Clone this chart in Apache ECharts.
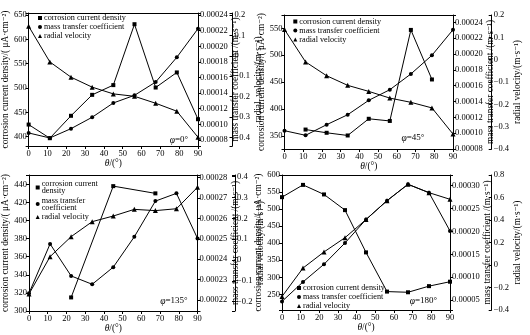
<!DOCTYPE html>
<html><head><meta charset="utf-8">
<script src="https://cdn.jsdelivr.net/npm/echarts@6/dist/echarts.min.js"></script>
<style>html,body{margin:0;padding:0;background:#fff}#c{width:530px;height:335px}</style>
</head><body><div id="c"></div>
<script>
// ---- data ----
const theta = [0, 11.25, 22.5, 33.75, 45, 56.25, 67.5, 78.75, 90];
const xRange = [0, 90];
const xStep = 10;

// phi = 0°
const cd0 = [425, 397, 443, 486, 506, 631, 501, 532, 436];
const mt0 = [0.0000890, 0.0000826, 0.0000945, 0.0001091, 0.0001274, 0.0001372, 0.0001542, 0.0001859, 0.0002225];
const rv0 = [0.145, -0.030, -0.105, -0.154, -0.187, -0.199, -0.233, -0.272, -0.400];
const cdRange0 = [381, 654], cdStep0 = 50;
const mtRange0 = [0.0000723, 0.0002426], mtStep0 = 0.00002;
const rvRange0 = [-0.4427, 0.2098], rvStep0 = 0.1;

// phi = 45°
const cd45 = [null, 362, 356, 351, 382, 378, 547, 455, null];
const mt45 = [0.0001031, 0.0000973, 0.0001107, 0.0001233, 0.0001415, 0.0001549, 0.0001748, 0.0001984, 0.0002307];
const rv45 = [0.135, -0.010, -0.072, -0.115, -0.142, -0.172, -0.191, -0.216, -0.333];
const cdRange45 = [325.9, 574.7], cdStep45 = 50;
const mtRange45 = [0.00008, 0.0002493], mtStep45 = 0.00002;
const rvRange45 = [-0.4, 0.2], rvStep45 = 0.1;

// phi = 135°
const cd135 = [null, null, 315, null, 438, null, 430, null, null];
const mt135 = [0.0002233, 0.0002475, 0.0002318, 0.0002277, 0.0002361, 0.0002510, 0.0002685, 0.0002723, 0.0002502];
const rv135 = [-0.163, 0.016, 0.112, 0.184, 0.211, 0.243, 0.237, 0.246, 0.349];
const cdRange135 = [300, 450.3], cdStep135 = 20;
const mtRange135 = [0.0002146, 0.0002813], mtStep135 = 0.00001;
const rvRange135 = [-0.245, 0.408], rvStep135 = 0.1;

// phi = 180°
const cd180 = [535, 571, 543, 497, 373, 258, 256, 274, 287];
const mt180 = [0.0000468, 0.0000895, 0.0001282, 0.0001747, 0.0002261, 0.0002672, 0.0003031, 0.0002847, 0.0002010];
const rv180 = [-0.280, -0.027, 0.116, 0.243, 0.404, 0.572, 0.717, 0.643, 0.584];
const cdRange180 = [204, 600], cdStep180 = 50;
const mtRange180 = [0.0000281, 0.0003234], mtStep180 = 0.00005;
const rvRange180 = [-0.4, 0.8], rvStep180 = 0.2;

const seriesNames = ['corrosion current density', 'mass transfer coefficient', 'radial velocity'];
const phiLabels = ['0°', '45°', '135°', '180°'];

// ---- layout ----
const FF = 'Liberation Serif, DejaVu Serif, serif';
const panels = [
  {grid:{left:26.5, right:332, top:13, bottom:189}, cd:cd0, mt:mt0, rv:rv0,
   cdR:cdRange0, cdS:cdStep0, mtR:mtRange0, mtS:mtStep0, rvR:rvRange0, rvS:rvStep0,
   outerOff:34.5, leftGap:12.5, innerGap:24, outerGap:14.5, leg:{left:38, top:14}, wrap:false, phiPos:[179,140],
   leftName:'corrosion current density/( μA·cm⁻²)', innerName:'mass transfer coefficient /(m·s⁻¹)', outerName:'radial  velocity/(m·s⁻¹)'},
  {grid:{left:284.5, right:77, top:15, bottom:186}, cd:cd45, mt:mt45, rv:rv45,
   cdR:cdRange45, cdS:cdStep45, mtR:mtRange45, mtS:mtStep45, rvR:rvRange45, rvS:rvStep45,
   outerOff:38.7, leftGap:12.2, innerGap:30, outerGap:20, leg:{left:293.3, top:17.5}, wrap:false, phiPos:[413,138],
   leftName:'corrosion current density/( μA·cm⁻²)', innerName:'mass transfer coefficient /(m·s⁻¹)', outerName:'radial velocity/(m·s⁻¹)'},
  {grid:{left:29, right:332.5, top:175, bottom:24}, cd:cd135, mt:mt135, rv:rv135,
   cdR:cdRange135, cdS:cdStep135, mtR:mtRange135, mtS:mtStep135, rvR:rvRange135, rvS:rvStep135,
   outerOff:37.5, leftGap:14, innerGap:29, outerGap:13, leg:{left:35.7, top:180}, wrap:true, phiPos:[174,301],
   leftName:'corrosion current density/( μA·cm⁻²)', innerName:'mass transfer coefficient /(m·s⁻¹)', outerName:'radial velocity/(m·s⁻¹)'},
  {grid:{left:282, right:80, top:175, bottom:25}, cd:cd180, mt:mt180, rv:rv180,
   cdR:cdRange180, cdS:cdStep180, mtR:mtRange180, mtS:mtStep180, rvR:rvRange180, rvS:rvStep180,
   outerOff:41.7, leftGap:18.7, innerGap:33, outerGap:20, leg:{left:297, top:284}, wrap:false, phiPos:[423.5,301],
   leftName:'corrosion current density/( μA·cm⁻²)', innerName:'mass transfer coefficient /(m·s⁻¹)', outerName:'radial velocity/(m·s⁻¹)'}
];

function isMult(v, s) { return Math.abs(v / s - Math.round(v / s)) < 1e-6; }
const fmtCd = s => v => isMult(v, s) ? String(Math.round(v)) : '';
const fmtMt = s => v => isMult(v, s) ? v.toFixed(5) : '';
const fmtRv = s => v => {
  if (!isMult(v, s)) return '';
  if (Math.abs(v) < 1e-9) return '0';
  return (v < 0 ? '−' : '') + Math.abs(v).toFixed(1);
};
const pairs = arr => theta.map((t, i) => [t, arr[i]]).filter(p => p[1] !== null);

const grids = [], xAxes = [], yAxes = [], series = [], legends = [], graphics = [];
const nameStyle = {fontFamily: FF, fontSize: 9.3, color: '#000'};
const labelStyle = {fontFamily: FF, fontSize: 8.5, color: '#000'};

function yAx(gi, range, step, fmt, pos, off, gap, name, inside) {
  return {
    type: 'value', gridIndex: gi, position: pos, offset: off,
    min: range[0], max: range[1], minInterval: step, maxInterval: step, splitNumber: 8,
    axisLine: {show: true, onZero: false, lineStyle: {color: '#000', width: 1}},
    axisTick: {show: true, inside: !!inside, length: 3, lineStyle: {color: '#000', width: 1}},
    axisLabel: Object.assign({margin: 2, formatter: fmt, showMinLabel: true, showMaxLabel: true}, labelStyle),
    splitLine: {show: false},
    name: name, nameLocation: 'middle', nameGap: gap, nameTextStyle: nameStyle
  };
}

panels.forEach((p, i) => {
  grids.push(Object.assign({containLabel: false}, p.grid));
  xAxes.push({
    type: 'value', gridIndex: i, min: xRange[0], max: xRange[1], interval: xStep, position: 'bottom',
    axisLine: {onZero: false, lineStyle: {color: '#000', width: 1}},
    axisTick: {length: 3, lineStyle: {color: '#000'}},
    axisLabel: Object.assign({margin: 3}, labelStyle),
    splitLine: {show: false},
    name: '{i|θ}/(°)', nameLocation: 'middle', nameGap: 12,
    nameTextStyle: Object.assign({rich: {i: {fontFamily: FF, fontSize: 9.5, fontStyle: 'italic', color: '#000'}}}, nameStyle)
  });
  xAxes.push({
    type: 'value', gridIndex: i, min: xRange[0], max: xRange[1], position: 'top',
    axisLine: {onZero: false, lineStyle: {color: '#000', width: 1}},
    axisTick: {show: false}, axisLabel: {show: false}, splitLine: {show: false}
  });
  const yb = yAxes.length;
  yAxes.push(yAx(i, p.cdR, p.cdS, fmtCd(p.cdS), 'left', 0, p.leftGap, p.leftName, false));
  yAxes.push(yAx(i, p.mtR, p.mtS, fmtMt(p.mtS), 'right', 0, p.innerGap, p.innerName, false));
  yAxes.push(yAx(i, p.rvR, p.rvS, fmtRv(p.rvS), 'right', p.outerOff, p.outerGap, p.outerName, true));
  const common = {type: 'line', xAxisIndex: i * 2, lineStyle: {color: '#000', width: 1},
    itemStyle: {color: '#000'}, showAllSymbol: true, animation: false, z: 3};
  series.push(Object.assign({name: seriesNames[0], yAxisIndex: yb, data: pairs(p.cd), symbol: 'rect', symbolSize: 4}, common));
  series.push(Object.assign({name: seriesNames[1], yAxisIndex: yb + 1, data: pairs(p.mt), symbol: 'circle', symbolSize: 4}, common));
  series.push(Object.assign({name: seriesNames[2], yAxisIndex: yb + 2, data: pairs(p.rv), symbol: 'triangle', symbolSize: 5}, common));
  legends.push({
    left: p.leg.left, top: p.leg.top, orient: 'vertical', itemWidth: 4, itemHeight: 4,
    itemGap: p.wrap ? 1.5 : 1, selectedMode: false, padding: 0,
    textStyle: {fontFamily: FF, fontSize: 8.2, color: '#000', lineHeight: p.wrap ? 7 : 8, padding: [0, 0, 0, -3]},
    formatter: p.wrap ? (n => n.replace('corrosion current ', 'corrosion current\n').replace('mass transfer ', 'mass transfer\n')) : (n => n),
    data: [{name: seriesNames[0], icon: 'rect'}, {name: seriesNames[1], icon: 'circle'}, {name: seriesNames[2], icon: 'triangle'}]
  });
  graphics.push({
    type: 'text', x: p.phiPos[0], y: p.phiPos[1], z: 10,
    style: {text: '{i|φ}=' + phiLabels[i], fontFamily: FF, fontSize: 9, fill: '#000', align: 'center', verticalAlign: 'middle',
      rich: {i: {fontFamily: FF, fontSize: 9.5, fontStyle: 'italic', fill: '#000'}}}
  });
});

const chart = echarts.init(document.getElementById('c'), null, {renderer: 'canvas'});
chart.setOption({
  backgroundColor: '#fff', animation: false,
  grid: grids, xAxis: xAxes, yAxis: yAxes, series: series, legend: legends, graphic: graphics
});
</script></body></html>
